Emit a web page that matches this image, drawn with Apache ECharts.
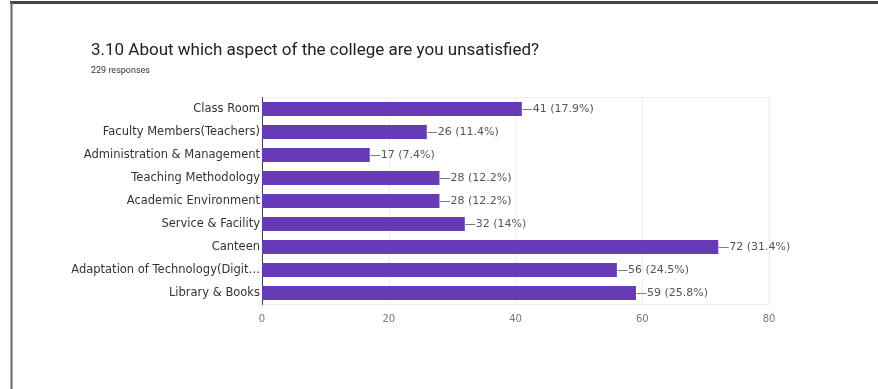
<!DOCTYPE html>
<html><head><meta charset="utf-8">
<script src="https://cdn.jsdelivr.net/npm/echarts@6/dist/echarts.min.js"></script>
<style>html,body{margin:0;padding:0;background:#fff}#c{width:878px;height:389px}</style>
</head><body><div id="c"></div>
<script>
const categories = ["Class Room","Faculty Members(Teachers)","Administration & Management","Teaching Methodology","Academic Environment","Service & Facility","Canteen","Adaptation of Technology(Digit…","Library & Books"];
const counts = [41,26,17,28,28,32,72,56,59];
const percents = ["17.9%","11.4%","7.4%","12.2%","12.2%","14%","31.4%","24.5%","25.8%"];
const xTicks = [0,20,40,60,80];

const chart = echarts.init(document.getElementById('c'), null, {renderer:'canvas'});
chart.setOption({
  backgroundColor:'#fff',
  animation:false,
  title:[
    {text:'3.10 About which aspect of the college are you unsatisfied?', left:86, top:37,
     textStyle:{fontFamily:'Roboto, Liberation Sans, sans-serif', fontSize:17, fontWeight:'normal', color:'#212121'}},
    {text:'229 responses', left:86, top:61,
     textStyle:{fontFamily:'Roboto, Liberation Sans, sans-serif', fontSize:9, fontWeight:'normal', color:'#333'}}
  ],
  graphic:[
    {type:'line', shape:{x1:10,y1:2.5,x2:878,y2:2.5}, style:{stroke:'#444',lineWidth:3}, z:100},
    {type:'line', shape:{x1:11.5,y1:2,x2:11.5,y2:389}, style:{stroke:'#666',lineWidth:2}, z:100}
  ],
  grid:{left:262, right:109, top:97.5, bottom:84.5, show:true, borderColor:'#eeeeee', borderWidth:1},
  xAxis:{type:'value', min:xTicks[0], max:xTicks[xTicks.length-1], interval:20,
    axisLine:{show:false}, axisTick:{show:false},
    splitLine:{lineStyle:{color:'#eeeeee'}},
    axisLabel:{color:'#777', fontSize:10, fontFamily:'DejaVu Sans, sans-serif', margin:10}},
  yAxis:{type:'category', data:categories, inverse:true,
    axisLine:{show:true, lineStyle:{color:'#444', width:1}}, axisTick:{show:false},
    axisLabel:{color:'#333', fontSize:11.5, fontFamily:'DejaVu Sans, sans-serif', margin:2}},
  series:[{type:'bar', data:counts, barWidth:14, itemStyle:{color:'#673ab7'},
    label:{show:true, position:'right', distance:0, color:'#555', fontSize:11,
      fontFamily:'DejaVu Sans, sans-serif',
      formatter:p=>'—'+counts[p.dataIndex]+' ('+percents[p.dataIndex]+')'}}]
});
</script></body></html>
